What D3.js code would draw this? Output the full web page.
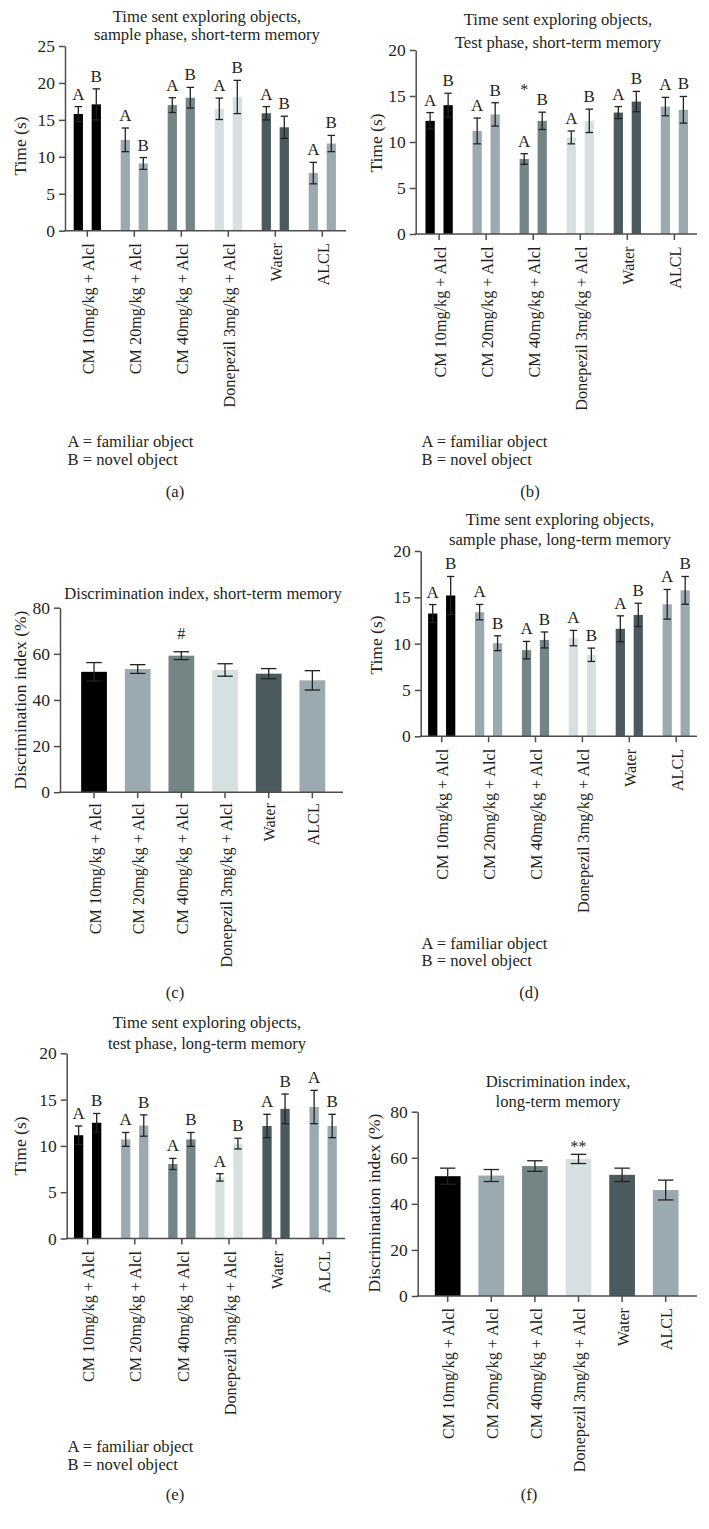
<!DOCTYPE html>
<html><head><meta charset="utf-8">
<script src="https://cdn.jsdelivr.net/npm/d3@7"></script>
<style>
body{margin:0;background:#fff}
text{font-family:"Liberation Serif","Times New Roman",serif;fill:#231f20}
</style>
</head><body>
<svg id="c" width="709" height="1529"></svg>
<script>
// ---------- data ----------
const groups = ["CM 10mg/kg + Alcl","CM 20mg/kg + Alcl","CM 40mg/kg + Alcl","Donepezil 3mg/kg + Alcl","Water","ALCL"];
const groupColors = ["#000000","#9baab1","#738585","#d7e0e0","#4b5a5c","#9baab1"];
const objects = ["A","B"];
const legendLines = ["A = familiar object","B = novel object"];
const timeTicks25 = [0,5,10,15,20,25];
const timeTicks20 = [0,5,10,15,20];
const indexTicks = [0,20,40,60,80];

// (a) sample phase, short-term memory
const aFamiliar    = [15.8, 12.3, 17.0, 16.5, 15.9, 7.8];
const aFamiliarSem = [1.0, 1.6, 1.0, 1.45, 0.9, 1.45];
const aNovel       = [17.1, 9.1, 18.0, 18.1, 14.0, 11.8];
const aNovelSem    = [2.1, 0.8, 1.4, 2.25, 1.5, 1.1];
// (b) test phase, short-term memory
const bFamiliar    = [12.3, 11.2, 8.15, 10.5, 13.2, 13.85];
const bFamiliarSem = [0.9, 1.4, 0.58, 0.7, 0.65, 1.0];
const bNovel       = [14.0, 13.0, 12.3, 12.3, 14.4, 13.5];
const bNovelSem    = [1.3, 1.27, 0.94, 1.27, 1.1, 1.45];
// (c) discrimination index, short-term memory
const cIndex    = [52.2, 53.4, 59.2, 53.0, 51.4, 48.5];
const cIndexSem = [4.0, 1.9, 1.7, 2.7, 2.2, 4.2];
// (d) sample phase, long-term memory
const dFamiliar    = [13.25, 13.4, 9.3, 10.6, 11.6, 14.25];
const dFamiliarSem = [0.97, 0.83, 0.94, 0.83, 1.4, 1.6];
const dNovel       = [15.2, 10.05, 10.4, 8.8, 13.1, 15.75];
const dNovelSem    = [2.05, 0.8, 0.86, 0.72, 1.26, 1.5];
// (e) test phase, long-term memory
const eFamiliar    = [11.15, 10.7, 8.05, 6.6, 12.15, 14.2];
const eFamiliarSem = [1.0, 0.75, 0.6, 0.4, 1.26, 1.8];
const eNovel       = [12.5, 12.2, 10.7, 10.25, 14.0, 12.15];
const eNovelSem    = [1.0, 1.15, 0.75, 0.58, 1.6, 1.26];
// (f) discrimination index, long-term memory
const fIndex    = [52.0, 52.3, 56.4, 59.5, 52.6, 46.0];
const fIndexSem = [3.5, 2.6, 2.3, 2.0, 2.9, 4.3];

// significance marks: [group index, object, y value in data units, symbol]
const bMarks = [[2, "A", 15.8, "*"]];
const cMarks = [[2, null, 69, "#"]];
const fMarks = [[3, null, 65, "**"]];

// ---------- layout ----------
const panels = [
  {kind:"pair", fam:aFamiliar, famSem:aFamiliarSem, nov:aNovel, novSem:aNovelSem, marks:[],
   yMax:25, ticks:timeTicks25, axisX:65, axisEnd:346, band:[63.8,345.8], y0:230.7, yTop:46,
   title:["Time sent exploring objects,","sample phase, short-term memory"], titleX:207, titleY:[21.5,39.5],
   yLabel:"Time (s)", yLabelX:26, yLabelY:146, labelGap:12.5,
   legend:true, legendX:67.5, legendY:[447,464.5], tag:"(a)", tagX:175, tagY:497},
  {kind:"pair", fam:bFamiliar, famSem:bFamiliarSem, nov:bNovel, novSem:bNovelSem, marks:bMarks,
   yMax:20, ticks:timeTicks20, axisX:415.7, axisEnd:697, band:[415.6,697.9], y0:234, yTop:50,
   title:["Time sent exploring objects,","Test phase, short-term memory"], titleX:558, titleY:[25,47.5],
   yLabel:"Time (s)", yLabelX:382, yLabelY:143, labelGap:12.5,
   legend:true, legendX:421.5, legendY:[447,464.5], tag:"(b)", tagX:530, tagY:497},
  {kind:"single", val:cIndex, sem:cIndexSem, marks:cMarks,
   yMax:80, ticks:indexTicks, axisX:60, axisEnd:343, band:[72.2,334.2], y0:792.2, yTop:607.7,
   title:["Discrimination index, short-term memory"], titleX:203, titleY:[599],
   yLabel:"Discrimination index (%)", yLabelX:26, yLabelY:700, labelGap:11,
   legend:false, tag:"(c)", tagX:175, tagY:998},
  {kind:"pair", fam:dFamiliar, famSem:dFamiliarSem, nov:dNovel, novSem:dNovelSem, marks:[],
   yMax:20, ticks:timeTicks20, axisX:420.7, axisEnd:697, band:[418.25,699.65], y0:736.3, yTop:551,
   title:["Time sent exploring objects,","sample phase, long-term memory"], titleX:560, titleY:[524.5,544.5],
   yLabel:"Time (s)", yLabelX:382, yLabelY:645, labelGap:12.5,
   legend:true, legendX:421.5, legendY:[948.5,965.5], tag:"(d)", tagX:529, tagY:997.5},
  {kind:"pair", fam:eFamiliar, famSem:eFamiliarSem, nov:eNovel, novSem:eNovelSem, marks:[],
   yMax:20, ticks:timeTicks20, axisX:66.7, axisEnd:345, band:[64.1,346.7], y0:1238.5, yTop:1053.3,
   title:["Time sent exploring objects,","test phase, long-term memory"], titleX:207, titleY:[1028,1048.5],
   yLabel:"Time (s)", yLabelX:26, yLabelY:1146, labelGap:12.5,
   legend:true, legendX:67.5, legendY:[1452,1469.5], tag:"(e)", tagX:175, tagY:1500},
  {kind:"single", val:fIndex, sem:fIndexSem, marks:fMarks,
   yMax:80, ticks:indexTicks, axisX:417.7, axisEnd:697, band:[425.9,687.5], y0:1296, yTop:1111.7,
   title:["Discrimination index,","long-term memory"], titleX:558, titleY:[1087,1107],
   yLabel:"Discrimination index (%)", yLabelX:380, yLabelY:1203, labelGap:12,
   legend:false, tag:"(f)", tagX:529, tagY:1500}
];

const svg = d3.select("#c");
const axisColor = "#4d4d4d";
const errColor = "#222";

function drawErr(g, cx, capW, yTopPx, yBotPx){
  g.append("line").attr("x1",cx).attr("x2",cx).attr("y1",yTopPx).attr("y2",yBotPx)
    .attr("stroke",errColor).attr("stroke-width",1.3);
  [yTopPx,yBotPx].forEach(yy=>g.append("line").attr("x1",cx-capW/2).attr("x2",cx+capW/2)
    .attr("y1",yy).attr("y2",yy).attr("stroke",errColor).attr("stroke-width",1.3));
}

panels.forEach(p=>{
  const g = svg.append("g");
  const y = d3.scaleLinear().domain([0,p.yMax]).range([p.y0,p.yTop]);
  let x0;
  if(p.kind==="pair"){
    x0 = d3.scaleBand().domain(groups).range(p.band).paddingInner(0).paddingOuter(0);
    const bw = x0.bandwidth();
    const x1 = d3.scaleBand().domain(objects).range([bw*0.21, bw*0.79]).paddingInner(0.485).paddingOuter(0);
    groups.forEach((gname,i)=>{
      const series = [[p.fam[i],p.famSem[i]],[p.nov[i],p.novSem[i]]];
      objects.forEach((o,j)=>{
        const [v,s] = series[j];
        const bx = x0(gname)+x1(o);
        g.append("rect").attr("x",bx).attr("width",x1.bandwidth())
          .attr("y",y(v)).attr("height",y(0)-y(v)).attr("fill",groupColors[i]);
        const cx = bx + x1.bandwidth()/2;
        drawErr(g, cx, x1.bandwidth()*0.8, y(v+s), y(v-s));
        g.append("text").attr("x",cx).attr("y",y(v+s)-7).attr("text-anchor","middle")
          .attr("font-size",17).text(o);
      });
    });
    p.marks.forEach(([gi,o,val,sym])=>{
      const cx = x0(groups[gi])+x1(o)+x1.bandwidth()/2;
      g.append("text").attr("x",cx).attr("y",y(val)+6).attr("text-anchor","middle")
        .attr("font-size",16).text(sym);
    });
  } else {
    x0 = d3.scaleBand().domain(groups).range(p.band).paddingInner(0.41).paddingOuter(0.205);
    groups.forEach((gname,i)=>{
      const v = p.val[i], s = p.sem[i];
      g.append("rect").attr("x",x0(gname)).attr("width",x0.bandwidth())
        .attr("y",y(v)).attr("height",y(0)-y(v)).attr("fill",groupColors[i]);
      drawErr(g, x0(gname)+x0.bandwidth()/2, x0.bandwidth()*0.6, y(v+s), y(v-s));
    });
    p.marks.forEach(([gi,o,val,sym])=>{
      g.append("text").attr("x",x0(groups[gi])+x0.bandwidth()/2).attr("y",y(val)+6)
        .attr("text-anchor","middle").attr("font-size",16).text(sym);
    });
  }
  // y axis
  const ya = g.append("g").attr("transform",`translate(${p.axisX},0)`)
    .call(d3.axisLeft(y).tickValues(p.ticks).tickSize(6).tickSizeOuter(0).tickPadding(4));
  ya.selectAll("path,line").attr("stroke",axisColor).attr("stroke-width",1.5);
  ya.selectAll("text").attr("font-size",17.5).attr("font-family","Liberation Serif").attr("fill","#231f20");
  // x axis
  const xa = g.append("g").attr("transform",`translate(0,${p.y0})`)
    .call(d3.axisBottom(x0).tickSize(6).tickSizeOuter(0).tickFormat(""));
  xa.select(".domain").remove();
  xa.selectAll("line").attr("stroke",axisColor).attr("stroke-width",1.5);
  g.append("line").attr("x1",p.axisX-0.75).attr("x2",p.axisEnd).attr("y1",p.y0).attr("y2",p.y0)
    .attr("stroke",axisColor).attr("stroke-width",1.5);
  // x labels (rotated)
  groups.forEach(gname=>{
    const cx = x0(gname)+x0.bandwidth()/2;
    g.append("text").attr("transform",`translate(${cx+1},${p.y0+p.labelGap}) rotate(-90)`)
      .attr("text-anchor","end").attr("dy","0.35em").attr("font-size",16.2).text(gname);
  });
  // y label
  g.append("text").attr("transform",`translate(${p.yLabelX},${p.yLabelY}) rotate(-90)`)
    .attr("text-anchor","middle").attr("font-size",17.5).text(p.yLabel);
  // title
  p.title.forEach((t,k)=>g.append("text").attr("x",p.titleX).attr("y",p.titleY[k])
    .attr("text-anchor","middle").attr("font-size",16.6).text(t));
  // legend
  if(p.legend){
    legendLines.forEach((t,k)=>g.append("text").attr("x",p.legendX).attr("y",p.legendY[k])
      .attr("font-size",16.6).text(t));
  }
  g.append("text").attr("x",p.tagX).attr("y",p.tagY).attr("text-anchor","middle")
    .attr("font-size",16.6).text(p.tag);
});
</script>
</body></html>
